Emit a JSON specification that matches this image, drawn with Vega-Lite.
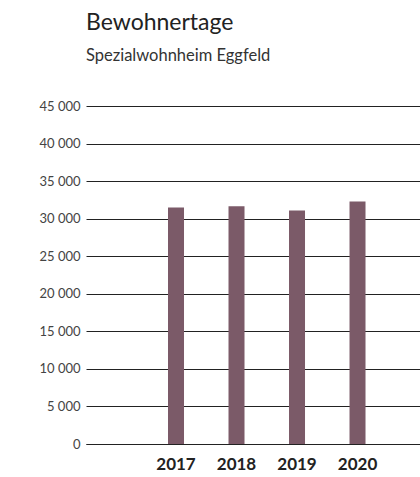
{
  "$schema": "https://vega.github.io/schema/vega-lite/v6.json",
  "autosize": {"type": "none"},
  "padding": {"left": 86, "top": 106, "right": 0, "bottom": 33},
  "width": 334,
  "height": 338,
  "background": "white",
  "title": {
    "text": "Bewohnertage",
    "subtitle": "Spezialwohnheim Eggfeld",
    "anchor": "start",
    "frame": "group",
    "font": "Lato",
    "fontSize": 23,
    "fontWeight": "normal",
    "color": "#222222",
    "subtitleFont": "Lato",
    "subtitleFontSize": 16.5,
    "subtitleColor": "#333333",
    "subtitlePadding": 13,
    "offset": 36
  },
  "data": {
    "values": [
      {"jahr": "2017", "tage": 31500},
      {"jahr": "2018", "tage": 31650},
      {"jahr": "2019", "tage": 31100},
      {"jahr": "2020", "tage": 32300}
    ]
  },
  "mark": {"type": "bar", "color": "#7b5a68"},
  "encoding": {
    "x": {
      "field": "jahr",
      "type": "nominal",
      "title": null,
      "scale": {"domain": ["2016", "2017", "2018", "2019", "2020"], "paddingInner": 0.7355, "paddingOuter": 0.628, "align": 0.283},
      "axis": {
        "labelExpr": "datum.value == '2016' ? '' : datum.value",
        "labelAngle": 0,
        "labelFont": "Lato",
        "labelFontSize": 17,
        "labelFontWeight": "bold",
        "labelColor": "#222222",
        "labelPadding": 12,
        "ticks": false,
        "domainColor": "#222222",
        "domainWidth": 1.2,
        "grid": false
      }
    },
    "y": {
      "field": "tage",
      "type": "quantitative",
      "title": null,
      "scale": {"domain": [0, 45000]},
      "axis": {
        "values": [0, 5000, 10000, 15000, 20000, 25000, 30000, 35000, 40000, 45000],
        "labelExpr": "replace(format(datum.value, ','), ',', ' ')",
        "labelFont": "Lato",
        "labelFontSize": 13,
        "labelColor": "#444444",
        "labelPadding": 6,
        "ticks": false,
        "domain": false,
        "grid": true,
        "gridColor": "#222222",
        "gridWidth": 1
      }
    }
  },
  "config": {"view": {"stroke": null}}
}
